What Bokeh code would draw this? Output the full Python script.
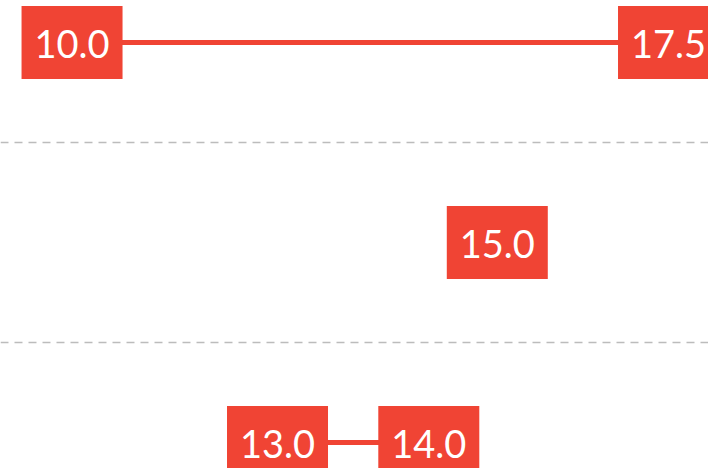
import numpy as np
from bokeh.plotting import figure
from bokeh.models import ColumnDataSource, Range1d, FixedTicker, Grid
from bokeh.core.properties import value
from bokeh.embed import file_html
from bokeh.resources import INLINE

# ---- data ----
categories = ["Row 1", "Row 2", "Row 3"]
start_values = [10.0, np.nan, 13.0]
end_values = [17.5, 15.0, 14.0]

# ---- style / layout ----
RED = "#F04434"
W, H = 708, 468
PX_PER_UNIT_X = 68.49
PX_PER_ROW = 200
LABEL_OFFSET_PX = 41.4
BOX_W, BOX_H = 101, 73
X_START = 8.351

n = len(categories)
ys = [n - 1 - i for i in range(n)]
y_top = (n - 1) + 42 / PX_PER_ROW

p = figure(width=W, height=H,
           x_range=Range1d(X_START, X_START + W / PX_PER_UNIT_X),
           y_range=Range1d(y_top - H / PX_PER_ROW, y_top),
           output_backend="svg", toolbar_location=None, min_border=0,
           x_axis_location=None, y_axis_location=None)
for g in p.grid:
    g.visible = False
p.outline_line_color = None
p.background_fill_color = "white"
p.border_fill_color = "white"

grid = Grid(dimension=1, ticker=FixedTicker(ticks=[i + 0.5 for i in range(n - 1)]),
            grid_line_color="#bcbcbc", grid_line_width=1.3,
            grid_line_dash="8 6", grid_line_dash_offset=0)
p.add_layout(grid)

seg_src = ColumnDataSource(dict(y=ys, start=start_values, end=end_values))
p.segment(x0="start", y0="y", x1="end", y1="y", source=seg_src,
          line_color=RED, line_width=5)

off = LABEL_OFFSET_PX / PX_PER_UNIT_X
lx, ly, txt = [], [], []
for y, s, e in zip(ys, start_values, end_values):
    if not np.isnan(s):
        lx.append(s - off); ly.append(y); txt.append(f"{s:.1f}")
    if not np.isnan(e):
        lx.append(e + off); ly.append(y); txt.append(f"{e:.1f}")
lab_src = ColumnDataSource(dict(x=lx, y=ly, text=txt))

p.rect(x="x", y="y", width=BOX_W, height=BOX_H, width_units="screen",
       height_units="screen", source=lab_src, fill_color=RED, line_color=None)
p.text(x="x", y="y", text="text", source=lab_src, text_align="center",
       text_baseline="middle", text_color="white", y_offset=1,
       text_font=value("Lato"), text_font_size="38px")

open("out.html", "w").write(file_html(p, INLINE))
